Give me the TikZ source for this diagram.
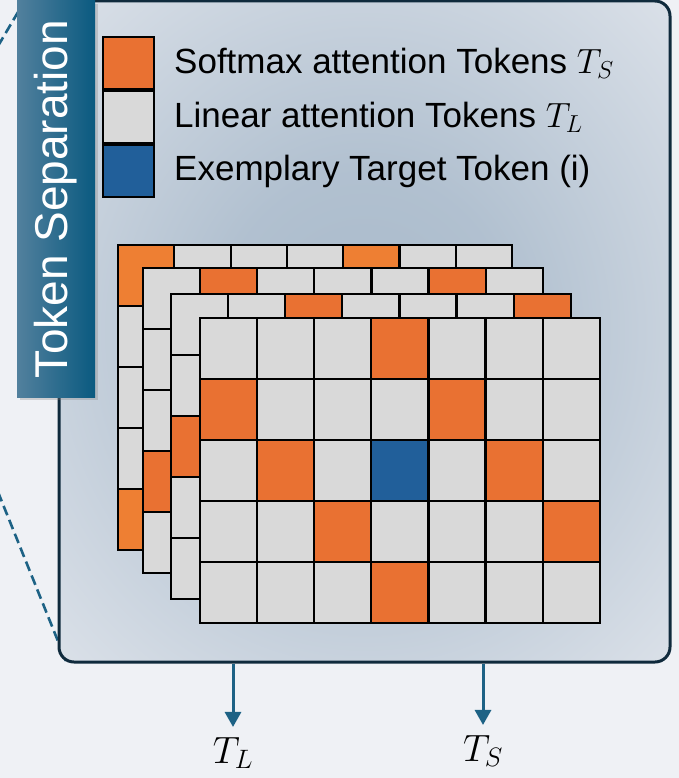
\RequirePackage{fix-cm}
\documentclass[tikz,border=0pt]{standalone}
\usepackage{fontspec}
\setmainfont{Liberation Sans}
\usepackage{tikz}
\usetikzlibrary{arrows.meta,shadows,positioning}

\definecolor{pagebg}{HTML}{EFF1F5}
\definecolor{panelin}{HTML}{A9BACB}
\definecolor{panelout}{HTML}{DFE4EB}
\definecolor{panelline}{HTML}{0F2A3C}
\definecolor{tabl}{HTML}{52809D}
\definecolor{tabr}{HTML}{0A5A80}
\definecolor{flow}{HTML}{1D6285}
\definecolor{smax}{HTML}{E97132}
\definecolor{smaxb}{HTML}{EE7F33}
\definecolor{lin}{HTML}{D9D9D9}
\definecolor{target}{HTML}{215F9A}

% soft glow for the panel
\pgfdeclareradialshading{panelglow}{\pgfpoint{0bp}{0bp}}{color(0bp)=(panelin); color(12bp)=(panelin!85!panelout); color(38bp)=(panelout); color(50bp)=(panelout)}

\tikzstyle{panel} = [draw=panelline, line width=3pt, rounded corners=15pt, shading=panelglow,
	minimum width=611pt, minimum height=661pt, inner sep=0pt]
\tikzstyle{tab} = [rotate=90, left color=tabl, right color=tabr, text=white,
	minimum width=396pt, minimum height=78pt, inner sep=0pt,
	font=\fontsize{46}{52}\selectfont,
	drop shadow={opacity=0.3, shadow xshift=3pt, shadow yshift=-3pt}]
\tikzstyle{cell} = [draw=black, line width=2.2pt]
\tikzstyle{key} = [draw=black, line width=2pt, minimum width=51pt, minimum height=52pt, inner sep=0pt]
\tikzstyle{keytext} = [font=\fontsize{35}{42}\selectfont, inner sep=0pt]
\tikzstyle{flowarrow} = [draw=flow, line width=3pt, -{Triangle[length=15pt,width=16pt]}, shorten >=9pt]
\tikzstyle{zoomline} = [draw=flow, line width=2.6pt, dash pattern=on 10pt off 5pt]

\begin{document}
\begin{tikzpicture}[x=1pt,y=-1pt]
\useasboundingbox[fill=pagebg] (0,0) rectangle (679,778);

% zoom lines into the panel
\coordinate (zoomtop) at (-2,46);
\coordinate (zoomtopend) at (24,2);
\coordinate (zoombot) at (-2,492);
\coordinate (zoombotend) at (66,661);
\draw[zoomline] (zoomtop) -- (zoomtopend);
\draw[zoomline] (zoombot) -- (zoombotend);

\node[panel] (panel) at (364.5,331.5) {};
\node[tab] (tab) at (56,199) {Token Separation};

% stacked token maps, back to front
\foreach \lx/\ly/\cw/\hot/\hotc in {
	118/245/56.3/{0/0,4/0,0/4}/smaxb,
	143/268/57.1/{1/0,5/0,0/3}/smax,
	171/294/57.1/{2/0,6/0,0/2}/smax,
	200/318/57.1/{3/0,0/1,4/1,1/2,5/2,2/3,6/3,3/4}/smax} {
	\begin{scope}[shift={(\lx,\ly)}, x=\cw pt, y=-61pt]
		\foreach \c in {0,...,6}
			\foreach \r in {0,...,4}
				\draw[cell, fill=lin] (\c,\r) rectangle ++(1,1);
		\foreach \c/\r in \hot
			\draw[cell, fill=\hotc] (\c,\r) rectangle ++(1,1);
	\end{scope}
}
% target token
\begin{scope}[shift={(200,318)}, x=57.1pt, y=-61pt]
	\draw[cell, fill=target] (3,2) rectangle ++(1,1);
\end{scope}

% legend
\node[key, fill=smax] (keysmax) at (128.5,63) {};
\node[key, fill=lin, below=0pt of keysmax] (keylin) {};
\node[key, fill=target, below=0pt of keylin] (keytgt) {};
\node[keytext, right=19pt of keysmax] (txtsmax) {Softmax attention Tokens $T_S$};
\node[keytext, right=19pt of keylin] (txtlin) {Linear attention Tokens $T_L$};
\node[keytext, right=19pt of keytgt] (txttgt) {Exemplary Target Token (i)};

% outputs
\node[font=\fontsize{38}{44}\selectfont, inner sep=1pt] (outL) at (233,753) {$T_L$};
\node[font=\fontsize{38}{44}\selectfont, inner sep=1pt] (outS) at (483,751) {$T_S$};
\draw[flowarrow] (panel.south -| outL) -- (outL.north);
\draw[flowarrow] (panel.south -| outS) -- (outS.north);
\end{tikzpicture}
\end{document}
